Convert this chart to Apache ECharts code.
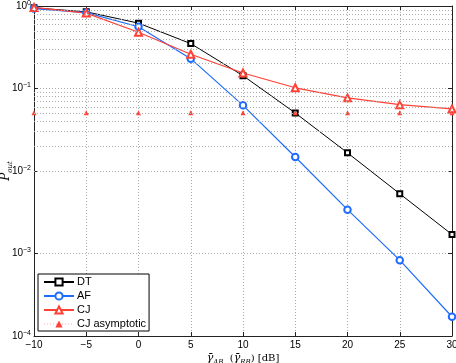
<!DOCTYPE html>
<html>
<head>
<meta charset="utf-8">
<script src="https://cdn.jsdelivr.net/npm/echarts@6/dist/echarts.min.js"></script>
<style>
  html, body { margin: 0; padding: 0; background: #fff; }
  #chart { width: 456px; height: 363px; }
</style>
</head>
<body>
<div id="chart"></div>
<script>
// SNR in dB
const snr = [-10, -5, 0, 5, 10, 15, 20, 25, 30]
// outage probabilities
const dtVals = [0.95, 0.85, 0.62, 0.35, 0.143, 0.0505, 0.0166, 0.0053, 0.0017]
const afVals = [0.93, 0.83, 0.56, 0.23, 0.0625, 0.0148, 0.0034, 0.00083, 0.000171]
const cjVals = [0.96, 0.82, 0.48, 0.26, 0.154, 0.102, 0.077, 0.0637, 0.0565]
const cjAsymVals = [0.051, 0.051, 0.051, 0.051, 0.051, 0.051, 0.051, 0.051, 0.051]
const yTickLabels = { '-4': '−4', '-3': '−3', '-2': '−2', '-1': '−1', '0': '0' }

const pairs = (ys) => snr.map((x, i) => [x, ys[i]])

// minor grid lines at 2..9 x 10^k
const minorGrid = []
for (let k = -4; k < 0; k++) {
  for (let m = 2; m <= 9; m++) minorGrid.push({ yAxis: m * Math.pow(10, k) })
}

const font = 'Liberation Sans, Arial, sans-serif'
const serif = 'DejaVu Serif, serif'
const red = '#ff4136'
const blue = '#1e6cff'
// main letter + lowered subscript
const mathRich = {
  i: { fontFamily: serif, fontStyle: 'italic', fontSize: 11, lineHeight: 16, color: '#000' },
  n: { fontFamily: serif, fontSize: 10, lineHeight: 16, color: '#000' },
  s: { fontFamily: serif, fontStyle: 'italic', fontSize: 7, lineHeight: 8, verticalAlign: 'bottom', color: '#000' }
}
const chart = echarts.init(document.getElementById('chart'))
chart.setOption({
  animation: false,
  backgroundColor: '#fff',
  grid: { left: 34, right: 4, top: 6, bottom: 27, outerBoundsMode: 'none', containLabel: false },
  legend: {
    orient: 'vertical',
    left: 38,
    top: 274,
    data: [
      'DT',
      'AF',
      'CJ',
      { name: 'CJ asymptotic', lineStyle: { opacity: 1, type: [1, 2], color: '#ffb0a8', width: 1 } }
    ],
    backgroundColor: '#fff',
    borderColor: '#000',
    borderWidth: 1,
    borderRadius: 0,
    padding: [1, 3, 0, 5],
    itemWidth: 30,
    itemHeight: 9,
    itemGap: 0,
    textStyle: { fontFamily: font, fontSize: 11, lineHeight: 14, color: '#000', padding: [0, 0, 0, -2] }
  },
  xAxis: [
    {
      type: 'value',
      min: -10,
      max: 30,
      interval: 5,
      name: '{i|γ̄}{s|AB}{n|  (}{i|γ̄}{s|RB}{n|) [dB]}',
      nameLocation: 'middle',
      nameGap: 14,
      nameMoveOverlap: false,
      nameTextStyle: { fontFamily: serif, fontSize: 10, color: '#000', rich: mathRich },
      axisLine: { show: true, onZero: false, lineStyle: { color: '#222', width: 1 } },
      axisTick: { show: true, inside: true, length: 4, lineStyle: { color: '#222' } },
      axisLabel: {
        fontFamily: font, fontSize: 10, color: '#000', margin: 4,
        formatter: (v) => (v < 0 ? '−' + Math.abs(v) : '' + v)
      },
      splitLine: { show: true, lineStyle: { color: '#aaa', type: [1, 2], width: 1 } }
    },
    {
      type: 'value',
      position: 'top',
      min: -10,
      max: 30,
      interval: 5,
      axisLine: { show: true, onZero: false, lineStyle: { color: '#222', width: 1 } },
      axisTick: { show: true, inside: true, length: 4, lineStyle: { color: '#222' } },
      axisLabel: { show: false },
      splitLine: { show: false }
    }
  ],
  yAxis: [
    {
      type: 'log',
      logBase: 10,
      min: 1e-4,
      max: 1,
      name: '{p|P}{s|out}',
      nameLocation: 'middle',
      nameRotate: 90,
      nameGap: 20,
      nameMoveOverlap: false,
      nameTextStyle: {
        color: '#000',
        rich: {
          p: { fontFamily: serif, fontStyle: 'italic', fontSize: 12, lineHeight: 16, color: '#000' },
          s: mathRich.s
        }
      },
      axisLine: { show: true, onZero: false, lineStyle: { color: '#222', width: 1 } },
      axisTick: { show: true, inside: true, length: 4, lineStyle: { color: '#222' } },
      axisLabel: {
        margin: 3,
        formatter: (v) => {
          const e = Math.round(Math.log10(v))
          return '{b|10}{e|' + yTickLabels[String(e)] + '}'
        },
        rich: {
          b: { fontFamily: font, fontSize: 10, color: '#000' },
          e: { fontFamily: font, fontSize: 7, color: '#000', verticalAlign: 'top', padding: [0, 0, 6, 0] }
        }
      },
      splitLine: { show: true, lineStyle: { color: '#aaa', type: [1, 2], width: 1 } }
    },
    {
      type: 'log',
      logBase: 10,
      min: 1e-4,
      max: 1,
      position: 'right',
      axisLine: { show: true, onZero: false, lineStyle: { color: '#222', width: 1 } },
      axisTick: { show: true, inside: true, length: 4, lineStyle: { color: '#222' } },
      axisLabel: { show: false },
      splitLine: { show: false }
    }
  ],
  series: [
    {
      type: 'line',
      data: [],
      silent: true,
      z: 0,
      markLine: {
        silent: true,
        symbol: 'none',
        label: { show: false },
        lineStyle: { color: '#aaa', type: [1, 2], width: 1 },
        data: minorGrid
      }
    },
    {
      name: 'DT',
      type: 'line',
      data: pairs(dtVals),
      symbol: 'emptyRect',
      symbolSize: 5,
      color: '#000',
      lineStyle: { color: '#000', width: 1 },
      itemStyle: { color: '#000', borderWidth: 0.8 }
    },
    {
      name: 'AF',
      type: 'line',
      data: pairs(afVals),
      symbol: 'emptyCircle',
      symbolSize: 6.5,
      color: blue,
      lineStyle: { color: blue, width: 1.2 },
      itemStyle: { color: blue, borderWidth: 1 }
    },
    {
      name: 'CJ',
      type: 'line',
      data: pairs(cjVals),
      symbol: 'emptyTriangle',
      symbolSize: 7,
      color: red,
      lineStyle: { color: red, width: 1.2 },
      itemStyle: { color: red, borderWidth: 1 }
    },
    {
      name: 'CJ asymptotic',
      type: 'line',
      data: pairs(cjAsymVals),
      symbol: 'triangle',
      symbolSize: 5,
      color: red,
      lineStyle: { opacity: 0 },
      itemStyle: { color: red }
    }
  ]
})
</script>
</body>
</html>
